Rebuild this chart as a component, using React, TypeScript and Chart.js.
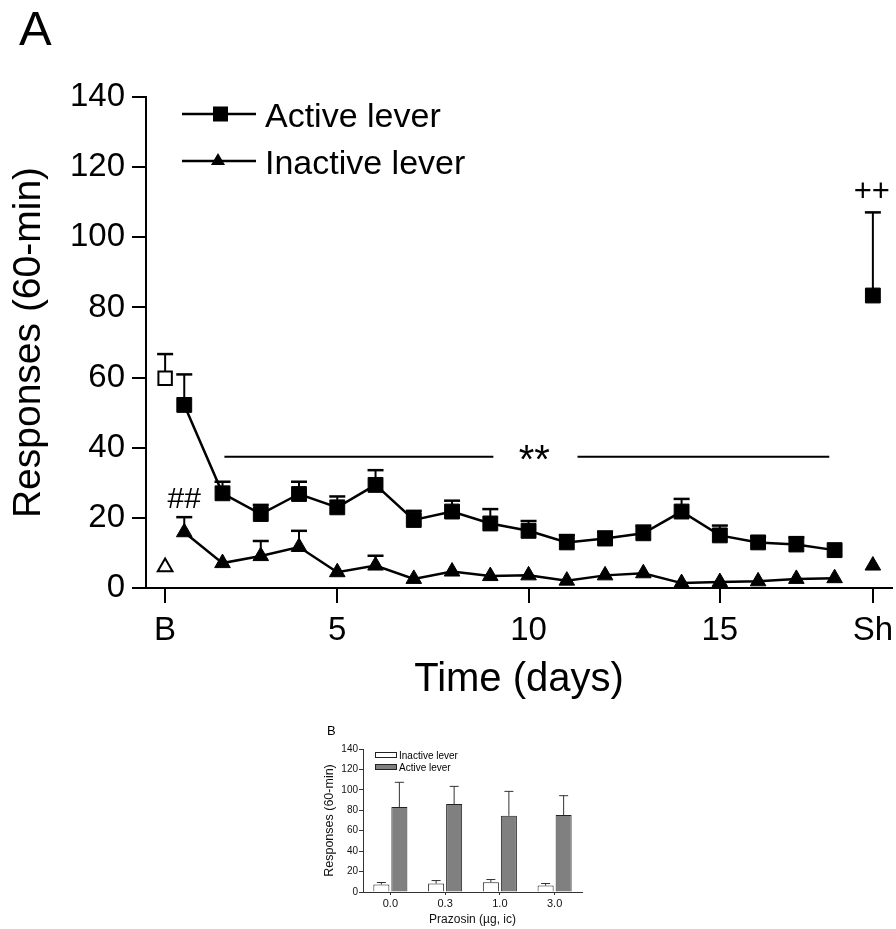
import React, { useEffect, useRef } from 'react';
import { Chart, registerables } from 'chart.js';

Chart.register(...registerables);

const FONT = "'Liberation Sans', Arial, Helvetica, sans-serif";

// ---------- Panel A data ----------
const days = [1, 2, 3, 4, 5, 6, 7, 8, 9, 10, 11, 12, 13, 14, 15, 16, 17, 18];
const activeMean = [52.2, 27.0, 21.1, 26.8, 23.0, 29.4, 19.4, 21.8, 18.4, 16.3, 13.0, 14.1, 15.6, 21.8, 15.0, 13.0, 12.4, 10.8];
const activeSem = [8.7, 3.3, 2.6, 3.5, 3.1, 4.2, 2.6, 3.1, 4.1, 2.8, 2.1, 2.0, 2.2, 3.6, 2.8, 1.6, 2.1, null];
const inactiveMean = [15.9, 7.1, 9.1, 11.7, 4.5, 6.4, 2.6, 4.7, 3.4, 3.6, 2.1, 3.6, 4.2, 1.4, 1.7, 1.9, 2.6, 2.8];
const inactiveSem = [4.3, null, 4.3, 4.6, null, 2.8, null, null, null, null, null, null, null, null, null, null, null, null];
const baselineX = [0.5];
const baselineActive = [59.8];
const baselineActiveSem = [6.9];
const baselineInactive = [6.0];
const shX = [19];
const shActive = [83.4];
const shActiveSem = [23.7];
const shInactive = [6.4];
const xTickValues = [0.5, 5, 10, 15, 19];
const xTickLabels = ['B', '5', '10', '15', 'Sh'];
const yTicksA = [0, 20, 40, 60, 80, 100, 120, 140];
const sigSegments = [[2.05, 9.08], [11.28, 17.86]];
const sigLevel = [37.4];
const sigStarX = [10.15];
const hashMark = [1, 22.8];
const plusMark = [19, 110.3];

// ---------- Panel B data ----------
const doses = ['0.0', '0.3', '1.0', '3.0'];
const bInactiveMean = [7.3, 8.2, 9.6, 6.3];
const bInactiveSem = [2.0, 3.0, 2.6, 2.0];
const bActiveMean = [83.1, 86.1, 74.6, 75.3];
const bActiveSem = [24.3, 17.3, 23.9, 19.0];

const pts = (xs: number[], ys: number[]) => xs.map((x, i) => ({ x, y: ys[i] }));

const errorBarsA = {
  id: 'errorBarsA',
  beforeDatasetsDraw(chart: any) {
    const ctx = chart.ctx;
    const ys = chart.scales.y;
    chart.data.datasets.forEach((ds: any, i: number) => {
      const errs = ds.errors;
      if (!errs) return;
      const meta = chart.getDatasetMeta(i);
      meta.data.forEach((el: any, j: number) => {
        const e = errs[j];
        if (e == null) return;
        const v = ds.data[j].y;
        const top = ys.getPixelForValue(v + e);
        ctx.save();
        ctx.strokeStyle = '#000';
        ctx.lineWidth = 2;
        ctx.beginPath();
        ctx.moveTo(el.x, el.y);
        ctx.lineTo(el.x, top);
        ctx.stroke();
        ctx.lineWidth = 2.5;
        ctx.beginPath();
        ctx.moveTo(el.x - 8, top);
        ctx.lineTo(el.x + 8, top);
        ctx.stroke();
        ctx.restore();
      });
    });
  },
};

const annotationsA = {
  id: 'annotationsA',
  afterDraw(chart: any) {
    const ctx = chart.ctx;
    const xs = chart.scales.x;
    const ys = chart.scales.y;
    ctx.save();
    ctx.fillStyle = '#000';
    ctx.strokeStyle = '#000';
    // panel letter
    ctx.font = `49px ${FONT}`;
    ctx.textAlign = 'left';
    ctx.textBaseline = 'alphabetic';
    ctx.fillText('A', 19, 45);

    // significance bar
    const sy = ys.getPixelForValue(sigLevel[0]);
    ctx.lineWidth = 2;
    sigSegments.forEach(([a, b]) => {
      ctx.beginPath();
      ctx.moveTo(xs.getPixelForValue(a), sy);
      ctx.lineTo(xs.getPixelForValue(b), sy);
      ctx.stroke();
    });
    ctx.font = `40px ${FONT}`;
    ctx.textAlign = 'center';
    ctx.fillText('**', xs.getPixelForValue(sigStarX[0]), sy + 16);

    ctx.font = `30px ${FONT}`;
    ctx.fillText('##', xs.getPixelForValue(hashMark[0]), ys.getPixelForValue(hashMark[1]));
    ctx.font = `31px ${FONT}`;
    ctx.fillText('++', xs.getPixelForValue(plusMark[0]) - 1, ys.getPixelForValue(plusMark[1]));

    // legend
    const items = [
      { label: 'Active lever', y: 114, base: 127, shape: 'square' },
      { label: 'Inactive lever', y: 161, base: 174, shape: 'triangle' },
    ];
    items.forEach((it) => {
      ctx.lineWidth = 2.5;
      ctx.beginPath();
      ctx.moveTo(182, it.y);
      ctx.lineTo(256, it.y);
      ctx.stroke();
      if (it.shape === 'square') {
        ctx.fillRect(213, it.y - 7.5, 15, 15);
      } else {
        ctx.beginPath();
        ctx.moveTo(218, it.y - 8);
        ctx.lineTo(225, it.y + 4);
        ctx.lineTo(211, it.y + 4);
        ctx.closePath();
        ctx.fill();
      }
      ctx.font = `34px ${FONT}`;
      ctx.textAlign = 'left';
      ctx.textBaseline = 'alphabetic';
      ctx.fillText(it.label, 265, it.base);
    });
    ctx.restore();
  },
};

const errorBarsB = {
  id: 'errorBarsB',
  afterDatasetsDraw(chart: any) {
    const ctx = chart.ctx;
    const ys = chart.scales.y;
    chart.data.datasets.forEach((ds: any, i: number) => {
      const errs = ds.errors;
      if (!errs) return;
      const meta = chart.getDatasetMeta(i);
      meta.data.forEach((el: any, j: number) => {
        const e = errs[j];
        if (e == null) return;
        const top = ys.getPixelForValue(ds.data[j] + e);
        ctx.save();
        ctx.strokeStyle = '#333';
        ctx.lineWidth = 1;
        ctx.beginPath();
        ctx.moveTo(el.x, el.y);
        ctx.lineTo(el.x, top);
        ctx.moveTo(el.x - 4.5, top);
        ctx.lineTo(el.x + 4.5, top);
        ctx.stroke();
        ctx.restore();
      });
    });
  },
};

const annotationsB = {
  id: 'annotationsB',
  afterDraw(chart: any) {
    const ctx = chart.ctx;
    ctx.save();
    ctx.fillStyle = '#000';
    ctx.font = `13px ${FONT}`;
    ctx.textAlign = 'left';
    ctx.textBaseline = 'alphabetic';
    ctx.fillText('B', 27, 20);
    const items = [
      { label: 'Inactive lever', y: 37, fill: '#ffffff' },
      { label: 'Active lever', y: 49, fill: '#808080' },
    ];
    items.forEach((it) => {
      ctx.fillStyle = it.fill;
      ctx.fillRect(75, it.y, 22, 6);
      ctx.strokeStyle = '#222';
      ctx.lineWidth = 1;
      ctx.strokeRect(75.5, it.y + 0.5, 21, 5);
      ctx.fillStyle = '#000';
      ctx.font = `10px ${FONT}`;
      ctx.fillText(it.label, 99, it.y + 7);
    });
    ctx.restore();
  },
};

const zeroPad = (s: any) => {
  s.paddingLeft = 0;
  s.paddingRight = 0;
  s.paddingTop = 0;
  s.paddingBottom = 0;
};

function PanelA() {
  const ref = useRef<HTMLCanvasElement>(null);
  useEffect(() => {
    const chart = new Chart(ref.current as HTMLCanvasElement, {
      type: 'line',
      data: {
        datasets: [
          {
            label: 'Active lever',
            data: pts(days, activeMean),
            errors: activeSem,
            borderColor: '#000',
            borderWidth: 2.5,
            pointStyle: 'rect',
            pointRadius: 10.5,
            pointBackgroundColor: '#000',
            pointBorderColor: '#000',
            pointBorderWidth: 1,
            tension: 0,
          },
          {
            label: 'Inactive lever',
            data: pts(days, inactiveMean),
            errors: inactiveSem,
            borderColor: '#000',
            borderWidth: 2.5,
            pointStyle: 'triangle',
            pointRadius: 9,
            pointBackgroundColor: '#000',
            pointBorderColor: '#000',
            pointBorderWidth: 1,
            tension: 0,
          },
          {
            label: 'Active baseline',
            data: pts(baselineX, baselineActive),
            errors: baselineActiveSem,
            showLine: false,
            pointStyle: 'rect',
            pointRadius: 9.5,
            pointBackgroundColor: '#fff',
            pointBorderColor: '#000',
            pointBorderWidth: 2,
          },
          {
            label: 'Inactive baseline',
            data: pts(baselineX, baselineInactive),
            showLine: false,
            pointStyle: 'triangle',
            pointRadius: 8.5,
            pointBackgroundColor: '#fff',
            pointBorderColor: '#000',
            pointBorderWidth: 2,
          },
          {
            label: 'Active Sh',
            data: pts(shX, shActive),
            errors: shActiveSem,
            showLine: false,
            pointStyle: 'rect',
            pointRadius: 10.5,
            pointBackgroundColor: '#000',
            pointBorderColor: '#000',
            pointBorderWidth: 1,
          },
          {
            label: 'Inactive Sh',
            data: pts(shX, shInactive),
            showLine: false,
            pointStyle: 'triangle',
            pointRadius: 9,
            pointBackgroundColor: '#000',
            pointBorderColor: '#000',
            pointBorderWidth: 1,
          },
        ] as any,
      },
      options: {
        responsive: false,
        animation: false,
        events: [],
        layout: { autoPadding: false, padding: { left: 0, right: 4, top: 97, bottom: 0 } },
        plugins: { legend: { display: false }, tooltip: { enabled: false } },
        scales: {
          x: {
            type: 'linear',
            min: 0,
            max: 19.5,
            afterBuildTicks: (axis: any) => {
              axis.ticks = xTickValues.map((v) => ({ value: v }));
            },
            afterFit: (s: any) => {
              s.height = 124;
              zeroPad(s);
            },
            ticks: {
              color: '#000',
              font: { family: FONT, size: 33 },
              padding: 8,
              maxRotation: 0,
              autoSkip: false,
              callback: (v: any) => {
                const i = xTickValues.indexOf(Number(v));
                return i >= 0 ? xTickLabels[i] : '';
              },
            },
            grid: { drawOnChartArea: false, drawTicks: true, tickLength: 15, color: '#000', lineWidth: 2 },
            border: { display: true, color: '#000', width: 2 },
            title: {
              display: true,
              text: 'Time (days)',
              color: '#000',
              font: { family: FONT, size: 40 },
              padding: { top: 0, bottom: 8 },
            },
          },
          y: {
            type: 'linear',
            min: 0,
            max: 140,
            afterBuildTicks: (axis: any) => {
              axis.ticks = yTicksA.map((v) => ({ value: v }));
            },
            afterFit: (s: any) => {
              s.width = 146;
              zeroPad(s);
            },
            ticks: { color: '#000', font: { family: FONT, size: 33 }, padding: 7 },
            grid: { drawOnChartArea: false, drawTicks: true, tickLength: 14, color: '#000', lineWidth: 2 },
            border: { display: true, color: '#000', width: 2 },
            title: {
              display: true,
              text: 'Responses (60-min)',
              color: '#000',
              font: { family: FONT, size: 39 },
              padding: { top: 6, bottom: 0 },
            },
          },
        },
      } as any,
      plugins: [errorBarsA, annotationsA],
    });
    return () => chart.destroy();
  }, []);
  return (
    <canvas
      ref={ref}
      width={896}
      height={712}
      style={{ position: 'absolute', left: 0, top: 0, width: 896, height: 712 }}
    />
  );
}

function PanelB() {
  const ref = useRef<HTMLCanvasElement>(null);
  useEffect(() => {
    const chart = new Chart(ref.current as HTMLCanvasElement, {
      type: 'bar',
      data: {
        labels: doses,
        datasets: [
          {
            label: 'Inactive lever',
            data: bInactiveMean,
            errors: bInactiveSem,
            backgroundColor: '#ffffff',
            borderColor: '#222',
            borderWidth: 1,
            barPercentage: 0.89,
            categoryPercentage: 0.658,
          },
          {
            label: 'Active lever',
            data: bActiveMean,
            errors: bActiveSem,
            backgroundColor: '#808080',
            borderColor: '#222',
            borderWidth: 1,
            barPercentage: 0.89,
            categoryPercentage: 0.658,
          },
        ] as any,
      },
      options: {
        responsive: false,
        animation: false,
        events: [],
        layout: { autoPadding: false, padding: { left: 0, right: 18, top: 34, bottom: 0 } },
        plugins: { legend: { display: false }, tooltip: { enabled: false } },
        scales: {
          x: {
            type: 'category',
            afterFit: (s: any) => {
              s.height = 37;
              zeroPad(s);
            },
            ticks: { color: '#111', font: { family: FONT, size: 11 }, padding: 2, maxRotation: 0 },
            grid: { drawOnChartArea: false, offset: false, tickLength: 3, color: '#333', lineWidth: 1 },
            border: { display: true, color: '#333', width: 1 },
            title: {
              display: true,
              text: 'Prazosin (µg, ic)',
              color: '#111',
              font: { family: FONT, size: 12 },
              padding: { top: 0, bottom: 2 },
            },
          },
          y: {
            type: 'linear',
            min: 0,
            max: 140,
            ticks: { stepSize: 20, color: '#111', font: { family: FONT, size: 10 }, padding: 1 },
            afterFit: (s: any) => {
              s.width = 63;
              zeroPad(s);
            },
            grid: { drawOnChartArea: false, tickLength: 4, color: '#333', lineWidth: 1 },
            border: { display: true, color: '#333', width: 1 },
            title: {
              display: true,
              text: 'Responses (60-min)',
              color: '#111',
              font: { family: FONT, size: 12.5 },
              padding: { top: 22, bottom: 0 },
            },
          },
        },
      } as any,
      plugins: [errorBarsB, annotationsB],
    });
    return () => chart.destroy();
  }, []);
  return (
    <canvas
      ref={ref}
      width={300}
      height={214}
      style={{ position: 'absolute', left: 300, top: 715, width: 300, height: 214 }}
    />
  );
}

export default function App() {
  return (
    <div style={{ position: 'absolute', left: 0, top: 0, width: 896, height: 929, background: '#fff' }}>
      <PanelA />
      <PanelB />
    </div>
  );
}
